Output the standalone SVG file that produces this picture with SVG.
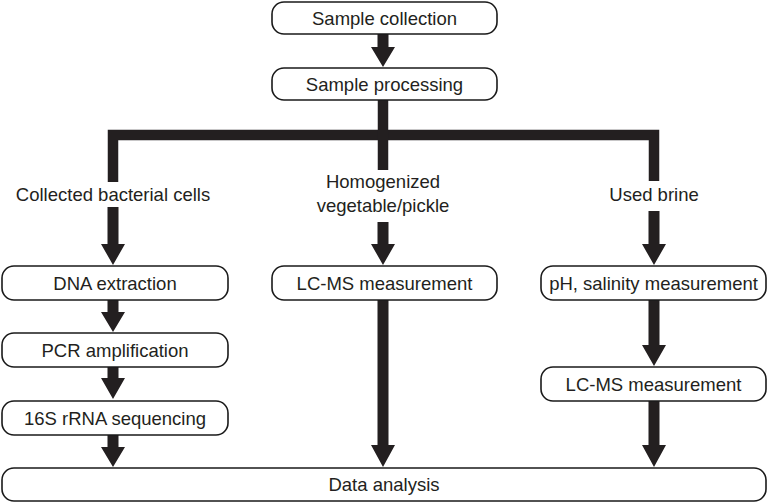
<svg xmlns="http://www.w3.org/2000/svg" width="768" height="503" viewBox="0 0 768 503">
<style>
.box{fill:#fff;stroke:#1a1a1a;stroke-width:1.6}
.t{font-family:"Liberation Sans",Arial,sans-serif;font-size:18.5px;fill:#231f20;text-anchor:middle}
.arr{fill:#231f20}
.bar{fill:none;stroke:#231f20;stroke-width:10.5;stroke-linejoin:miter}
</style>
<rect width="768" height="503" fill="#fff"/>
<g id="connectors">
<path class="arr" d="M377.5 34H388.5V47H395L383 67L371 47H377.5Z"/>
<path class="bar" d="M113 182V135H654V181"/>
<path class="bar" d="M383 100V170"/>
<path class="arr" d="M107.5 207H118.5V244H125L113 265L101 244H107.5Z"/>
<path class="arr" d="M377.5 222H388.5V244H395L383 265L371 244H377.5Z"/>
<path class="arr" d="M648.5 211H659.5V244H666L654 265L642 244H648.5Z"/>
<path class="arr" d="M107.5 300H118.5V312H125L113 332L101 312H107.5Z"/>
<path class="arr" d="M107.5 367H118.5V378H125L113 399L101 378H107.5Z"/>
<path class="arr" d="M107.5 435H118.5V447H125L113 467L101 447H107.5Z"/>
<path class="arr" d="M377.5 300H388.5V445H395L383 467L371 445H377.5Z"/>
<path class="arr" d="M648.5 300H659.5V345H666L654 366L642 345H648.5Z"/>
<path class="arr" d="M648.5 401H659.5V445H666L654 467L642 445H648.5Z"/>
</g>
<g id="label-left"><text class="t" x="113" y="201">Collected bacterial cells</text></g>
<g id="label-mid"><text class="t" x="383" y="188">Homogenized</text><text class="t" x="383" y="212">vegetable/pickle</text></g>
<g id="label-right"><text class="t" x="654" y="201">Used brine</text></g>
<g id="n-collection"><rect class="box" x="272" y="2" width="225" height="32" rx="12"/><text class="t" x="384.5" y="25">Sample collection</text></g>
<g id="n-processing"><rect class="box" x="272" y="68" width="225" height="32" rx="12"/><text class="t" x="384.5" y="91">Sample processing</text></g>
<g id="n-dna"><rect class="box" x="2" y="266" width="226" height="34" rx="12"/><text class="t" x="115" y="290">DNA extraction</text></g>
<g id="n-lcms1"><rect class="box" x="272" y="266" width="225" height="34" rx="12"/><text class="t" x="384.5" y="290">LC-MS measurement</text></g>
<g id="n-ph"><rect class="box" x="541" y="266" width="225" height="34" rx="12"/><text class="t" x="653.5" y="290">pH, salinity measurement</text></g>
<g id="n-pcr"><rect class="box" x="2" y="333" width="226" height="34" rx="12"/><text class="t" x="115" y="357">PCR amplification</text></g>
<g id="n-lcms2"><rect class="box" x="541" y="367" width="225" height="34" rx="12"/><text class="t" x="653.5" y="391">LC-MS measurement</text></g>
<g id="n-16s"><rect class="box" x="2" y="401" width="226" height="34" rx="12"/><text class="t" x="115" y="425">16S rRNA sequencing</text></g>
<g id="n-data"><rect class="box" x="2" y="468" width="764" height="33" rx="12"/><text class="t" x="384" y="491">Data analysis</text></g>
</svg>
